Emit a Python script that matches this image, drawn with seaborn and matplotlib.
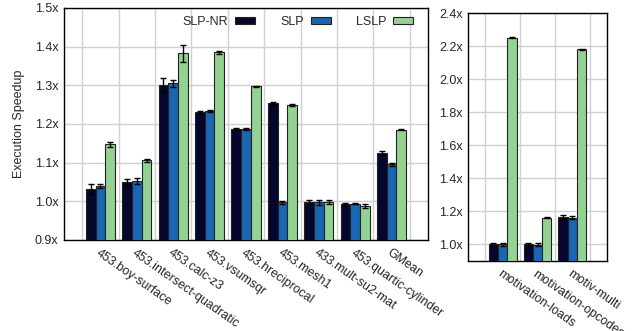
import numpy as np
import pandas as pd
import matplotlib
matplotlib.use("Agg")
import matplotlib.pyplot as plt
import seaborn as sns

# benchmark data (speedup and error bar half-widths)
variants = ["SLP-NR", "SLP", "LSLP"]
colors = ["#000033", "#0066cc", "#88dd88"]

bench_main = ["453.boy-surface", "453.intersect-quadratic", "453.calc-z3",
              "453.vsumsqr", "453.hreciprocal", "453.mesh1",
              "433.mult-su2-mat", "453.quartic-cylinder", "GMean"]
slpnr_main = [1.033, 1.049, 1.302, 1.231, 1.187, 1.254, 0.999, 0.992, 1.125]
slp_main = [1.039, 1.053, 1.305, 1.234, 1.187, 0.998, 0.997, 0.994, 1.096]
lslp_main = [1.147, 1.106, 1.383, 1.386, 1.297, 1.250, 0.999, 0.988, 1.185]
slpnr_main_err = [0.013, 0.008, 0.018, 0.002, 0.002, 0.002, 0.005, 0.003, 0.004]
slp_main_err = [0.005, 0.008, 0.010, 0.003, 0.002, 0.004, 0.006, 0.002, 0.004]
lslp_main_err = [0.006, 0.004, 0.022, 0.004, 0.001, 0.003, 0.005, 0.004, 0.001]

bench_motiv = ["motivation-loads", "motivation-opcodes", "motiv-multi"]
slpnr_motiv = [1.000, 1.003, 1.167]
slp_motiv = [1.000, 0.998, 1.163]
lslp_motiv = [2.251, 1.163, 2.180]
slpnr_motiv_err = [0.008, 0.008, 0.010]
slp_motiv_err = [0.008, 0.010, 0.010]
lslp_motiv_err = [0.003, 0.002, 0.002]

FS = 9

sns.set_style("white")
plt.rcParams["font.family"] = ["Liberation Sans", "DejaVu Sans"]
plt.rcParams["font.size"] = FS


def make_df(bench, vals):
    rows = []
    for v, ys in zip(variants, vals):
        for b, y in zip(bench, ys):
            rows.append({"bench": b, "variant": v, "speedup": y})
    return pd.DataFrame(rows)


def draw(ax, bench, vals, errs, ylim, yticks):
    df = make_df(bench, vals)
    sns.barplot(data=df, x="bench", y="speedup", hue="variant",
                order=bench, hue_order=variants, palette=colors,
                edgecolor="#222222", linewidth=0.8, width=0.8,
                errorbar=None, ax=ax, legend=True, zorder=3)
    n = len(bench)
    w = 0.8 / 3
    for k in range(3):
        xs = np.arange(n) - 0.4 + w * (k + 0.5)
        ax.errorbar(xs, vals[k], yerr=errs[k], fmt="none", ecolor="black",
                    elinewidth=1, capsize=2.5, capthick=1, zorder=4)
    ax.set_xlim(-1, n)
    ax.set_ylim(*ylim)
    ax.set_yticks(yticks)
    ax.set_yticklabels([f"{t:.1f}x" for t in yticks])
    ax.set_xticks(np.arange(-0.5, n), minor=True)
    ax.grid(False)
    ax.grid(True, which="minor", axis="x", color="#d0d0d0", linewidth=1, zorder=0)
    ax.grid(True, which="major", axis="y", color="#d0d0d0", linewidth=1, zorder=0)
    ax.set_axisbelow(True)
    ax.tick_params(axis="x", which="both", length=0, pad=5)
    ax.tick_params(axis="y", direction="in", length=4, pad=4, labelsize=FS)
    ax.set_xlabel("")
    ax.set_ylabel("")
    for lab in ax.get_xticklabels():
        lab.set_rotation(-35)
        lab.set_ha("left")
        lab.set_va("top")
        lab.set_rotation_mode("anchor")
        lab.set_fontsize(FS)
    for s in ax.spines.values():
        s.set_color("black")
        s.set_linewidth(1)


fig = plt.figure(figsize=(6.42, 3.31), dpi=100)
ax1 = fig.add_axes([64 / 642, 1 - 240 / 331, 364 / 642, 232 / 331])
ax2 = fig.add_axes([468 / 642, 1 - 261 / 331, 139 / 642, 248 / 331])

draw(ax1, bench_main, [slpnr_main, slp_main, lslp_main],
     [slpnr_main_err, slp_main_err, lslp_main_err],
     (0.9, 1.5), np.round(np.arange(0.9, 1.51, 0.1), 1))
draw(ax2, bench_motiv, [slpnr_motiv, slp_motiv, lslp_motiv],
     [slpnr_motiv_err, slp_motiv_err, lslp_motiv_err],
     (0.9, 2.4), np.round(np.arange(1.0, 2.41, 0.2), 1))

ax1.set_ylabel("Execution Speedup", fontsize=FS, labelpad=7)

handles, labels = ax1.get_legend_handles_labels()
ax1.legend(handles, labels, ncol=3, loc="upper right",
           bbox_to_anchor=(0.99, 1.015), frameon=False, markerfirst=False,
           handlelength=1.6, handleheight=0.45, columnspacing=2.0,
           handletextpad=0.55, fontsize=FS)
ax2.get_legend().remove()

fig.savefig("out.png", dpi=100)
